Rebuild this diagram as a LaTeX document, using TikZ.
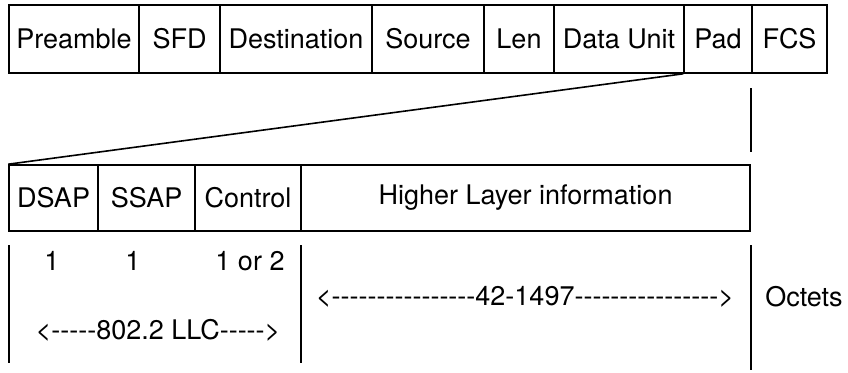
\documentclass[tikz,border=0pt]{standalone}
\usepackage{fontspec}
\setmainfont{TeX Gyre Heros}
\begin{document}
\begin{tikzpicture}[x=0.5pt, y=-0.5pt, line width=0.8pt,
  field/.style={draw, inner sep=0pt, minimum height=34pt, font=\fontsize{13.5}{16}\selectfont},
  llcfield/.style={field, minimum height=33pt},
  lbl/.style={inner sep=0pt, font=\fontsize{13.5}{16}\selectfont}]
\useasboundingbox (0,0) rectangle (848,372);
\node[field, minimum width=65pt] (pre) at (74,39) {Preamble};
\node[field, minimum width=40.5pt] (sfd) at (179.5,39) {SFD};
\node[field, minimum width=76pt] (dst) at (296,39) {Destination};
\node[field, minimum width=56pt] (src) at (428,39) {Source};
\node[field, minimum width=35pt] (len) at (519,39) {Len};
\node[field, minimum width=65pt] (data) at (619,39) {Data Unit};
\node[field, minimum width=34pt] (pad) at (718,39) {Pad};
\node[field, minimum width=37.5pt] (fcs) at (789.5,39) {FCS};
\node[llcfield, minimum width=44.5pt] (dsap) at (53.5,198) {DSAP};
\node[llcfield, minimum width=48.5pt] (ssap) at (146.5,198) {SSAP};
\node[llcfield, minimum width=53pt] (ctrl) at (248,198) {Control};
\node[llcfield, minimum width=224.5pt] (info) at (525.5,198) {Higher Layer information};
\draw (pad.south west) -- (dsap.north west);
\coordinate (fcsA) at (751,88);
\coordinate (fcsB) at (751,152);
\draw (fcsA) -- (fcsB);
\coordinate (l1a) at (9,245);
\coordinate (l1b) at (9,363);
\coordinate (l2a) at (301,245);
\coordinate (l2b) at (301,363);
\coordinate (l3a) at (751,245);
\coordinate (l3b) at (751,370);
\draw (l1a) -- (l1b);
\draw (l2a) -- (l2b);
\draw (l3a) -- (l3b);
\node[lbl] (n1) at (52,261) {1};
\node[lbl] (n2) at (133,261) {1};
\node[lbl] (n3) at (250,261) {1 or 2};
\node[lbl] (llc) at (158,330) {<-{}-{}-{}-{}-802.2 LLC-{}-{}-{}-{}->};
\node[lbl] (hli) at (525,297) {<-{}-{}-{}-{}-{}-{}-{}-{}-{}-{}-{}-{}-{}-{}-{}-42-1497-{}-{}-{}-{}-{}-{}-{}-{}-{}-{}-{}-{}-{}-{}-{}->};
\node[lbl] (oct) at (804,297) {Octets};
\end{tikzpicture}
\end{document}
